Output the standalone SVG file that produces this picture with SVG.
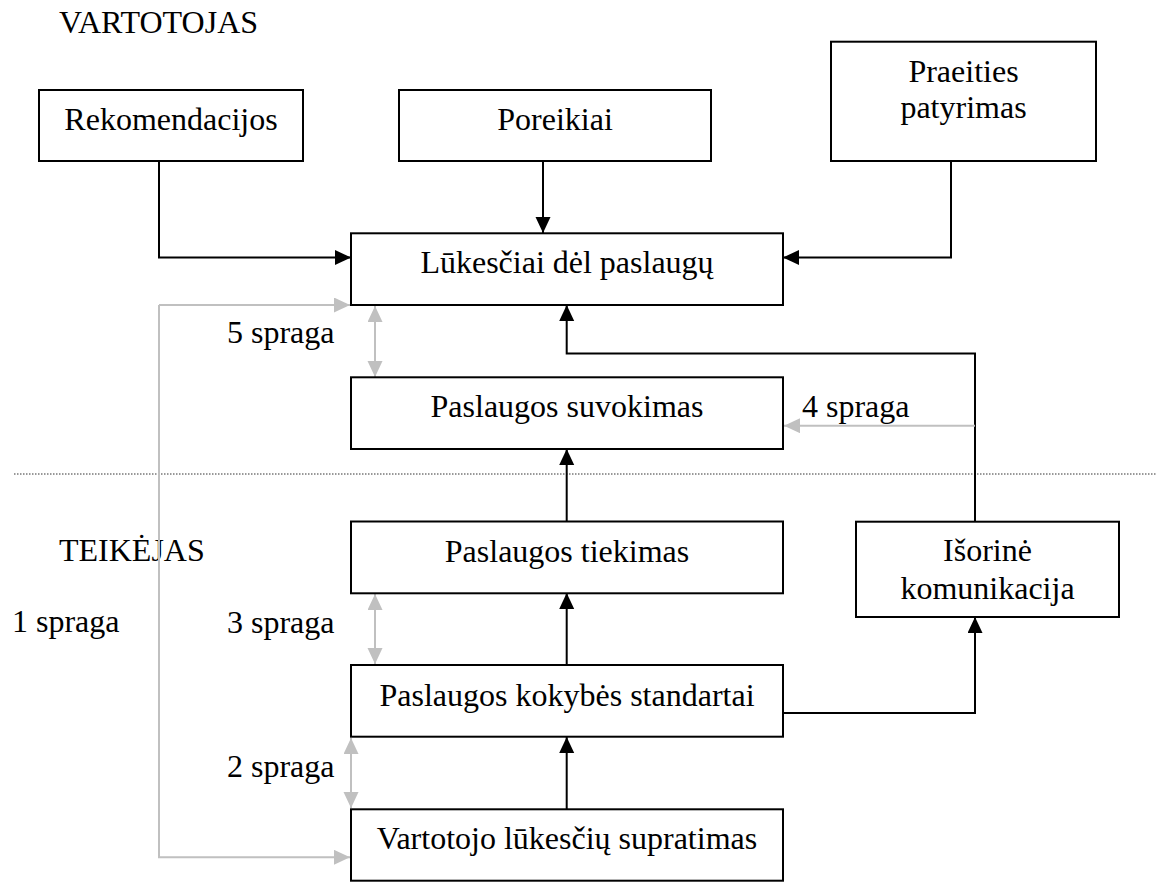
<svg xmlns="http://www.w3.org/2000/svg" width="1156" height="882" viewBox="0 0 1156 882" font-family="'Liberation Serif', 'Times New Roman', Tinos, serif">
<style>
.box{fill:#fff;stroke:#000;stroke-width:2}
text{font-family:'Liberation Serif','Times New Roman',Tinos,serif;font-size:32px;fill:#000}
.c{text-anchor:middle}
.blk{fill:none;stroke:#000;stroke-width:2}
.gry{fill:none;stroke:#c0c0c0;stroke-width:2}
</style>
<defs>
<marker id="ab" markerUnits="userSpaceOnUse" markerWidth="16" markerHeight="16" refX="16" refY="7.5" orient="auto"><path d="M0,0 L16,7.5 L0,15 z" fill="#000"/></marker>
<marker id="ag" markerUnits="userSpaceOnUse" markerWidth="16" markerHeight="16" refX="16" refY="7.5" orient="auto-start-reverse"><path d="M0,0 L16,7.5 L0,15 z" fill="#c0c0c0"/></marker>
</defs>
<rect width="1156" height="882" fill="#fff"/>
<text x="59" y="33">VARTOTOJAS</text>
<text x="59" y="561">TEIKĖJAS</text>
<line x1="14" y1="474" x2="1156" y2="474" stroke="#333" stroke-width="1" stroke-dasharray="1.5 1.5"/>
<g id="connectors">
<path class="blk" d="M159,161 V257.5 H351" marker-end="url(#ab)"/>
<path class="blk" d="M543,161 V233" marker-end="url(#ab)"/>
<path class="blk" d="M951,161 V257.5 H783" marker-end="url(#ab)"/>
<path class="blk" d="M975,521.5 V353.5 H566.7 V305" marker-end="url(#ab)"/>
<path class="blk" d="M566.7,521.5 V449" marker-end="url(#ab)"/>
<path class="blk" d="M566.7,665 V593" marker-end="url(#ab)"/>
<path class="blk" d="M566.7,809 V737" marker-end="url(#ab)"/>
<path class="blk" d="M783,713 H975 V617" marker-end="url(#ab)"/>
<path class="gry" d="M975,425.7 H784" marker-end="url(#ag)"/>
<path class="gry" d="M375,306 V377" marker-start="url(#ag)" marker-end="url(#ag)"/>
<path class="gry" d="M375,594 V664" marker-start="url(#ag)" marker-end="url(#ag)"/>
<path class="gry" d="M351,738 V808" marker-start="url(#ag)" marker-end="url(#ag)"/>
<path class="gry" d="M159,305 V857.3 H350" marker-end="url(#ag)"/>
<path class="gry" d="M159,305 H350" marker-end="url(#ag)"/>
<text x="227" y="343">5 spraga</text>
<text x="802" y="417.3">4 spraga</text>
<text x="227" y="632.7">3 spraga</text>
<text x="227" y="777.3">2 spraga</text>
<text x="12" y="632">1 spraga</text>
</g>
<g id="rekomendacijos"><rect class="box" x="39" y="90" width="264" height="71"/><text class="c" x="171" y="130">Rekomendacijos</text></g>
<g id="poreikiai"><rect class="box" x="399" y="90" width="312" height="71"/><text class="c" x="555" y="130">Poreikiai</text></g>
<g id="praeities"><rect class="box" x="831" y="41.7" width="265" height="119.3"/><text class="c" x="963.5" y="81.5">Praeities</text><text class="c" x="963.5" y="117.5">patyrimas</text></g>
<g id="lukesciai"><rect class="box" x="351" y="233.3" width="432" height="71.7"/><text class="c" x="567" y="273">Lūkesčiai dėl paslaugų</text></g>
<g id="suvokimas"><rect class="box" x="351" y="377.3" width="432" height="71.7"/><text class="c" x="567" y="417.3">Paslaugos suvokimas</text></g>
<g id="tiekimas"><rect class="box" x="351" y="521.5" width="432" height="71.8"/><text class="c" x="567" y="561.5">Paslaugos tiekimas</text></g>
<g id="isorine"><rect class="box" x="856" y="521.7" width="263" height="95.3"/><text class="c" x="987.5" y="561">Išorinė</text><text class="c" x="987.5" y="599">komunikacija</text></g>
<g id="standartai"><rect class="box" x="351" y="665" width="432" height="71.7"/><text class="c" x="567" y="706">Paslaugos kokybės standartai</text></g>
<g id="supratimas"><rect class="box" x="351" y="809.3" width="432" height="71.4"/><text class="c" x="567" y="849">Vartotojo lūkesčių supratimas</text></g>
</svg>
